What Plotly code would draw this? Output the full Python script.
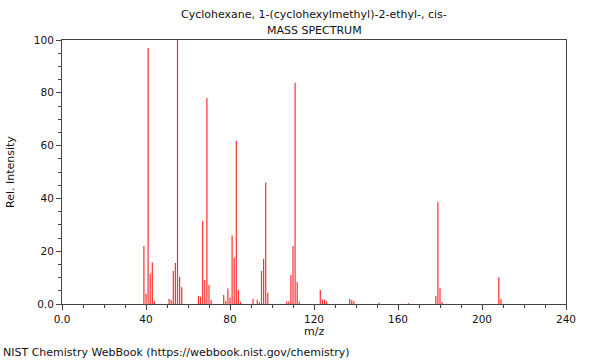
import plotly.graph_objects as go

mz = [39, 40, 41, 42, 43, 44, 51, 52, 53, 54, 55, 56, 57,
      65, 66, 67, 68, 69, 70, 71, 77, 78, 79, 80, 81, 82, 83, 84, 85,
      91, 93, 94, 95, 96, 97, 98,
      107, 108, 109, 110, 111, 112, 113,
      123, 124, 125, 126, 137, 138, 139, 151, 165,
      178, 179, 180, 181, 208, 209]
intensity = [22, 4, 97, 11.6, 15.8, 1, 2, 1.5, 12.5, 15.5, 100, 10.2, 6.3,
             3, 2.7, 31.4, 9.1, 78, 7.2, 1.5, 3.4, 1.1, 5.9, 2.5, 25.9, 17.5, 61.7, 5.3, 0.8,
             1.9, 1.5, 0.7, 12.5, 17, 46, 4.3,
             0.9, 0.9, 11, 22, 83.8, 8.3, 0.9,
             5.3, 1.7, 1.7, 0.9, 1.9, 1.5, 1, 0.5, 0.3,
             3, 38.5, 6, 0.8, 10.1, 1.9]

x_tick_vals = [0, 40, 80, 120, 160, 200, 240]
x_tick_text = ["0.0", "40", "80", "120", "160", "200", "240"]
y_tick_vals = [0, 20, 40, 60, 80, 100]
y_tick_text = ["0.0", "20", "40", "60", "80", "100"]

title_lines = ["Cyclohexane, 1-(cyclohexylmethyl)-2-ethyl-, cis-", "MASS SPECTRUM"]
footer = "NIST Chemistry WebBook (https://webbook.nist.gov/chemistry)"
x_title = "m/z"
y_title = "Rel. Intensity"

line_color = "#ff3030"

# stick spectrum built from the data arrays
stem_x, stem_y = [], []
for m, v in zip(mz, intensity):
    stem_x += [m, m, None]
    stem_y += [0, v, None]

fig = go.Figure()
fig.add_trace(go.Scatter(x=stem_x, y=stem_y, mode="lines",
                         line=dict(color=line_color, width=1.2),
                         connectgaps=False, hoverinfo="skip"))

font = "DejaVu Sans, sans-serif"
fig.update_layout(
    width=600, height=360,
    margin=dict(l=62, r=34, t=40, b=56, autoexpand=False),
    paper_bgcolor="white", plot_bgcolor="white",
    showlegend=False,
    font=dict(family=font, size=11, color="#111"),
)
fig.update_xaxes(
    range=[0, 240], tickvals=x_tick_vals, ticktext=x_tick_text,
    ticks="outside", ticklen=5, tickwidth=1, tickcolor="#444",
    minor=dict(dtick=10, ticks="outside", ticklen=3, tickcolor="#444"),
    showline=True, linecolor="#444", linewidth=1, mirror=True,
    showgrid=False, zeroline=False, automargin=False,
    tickfont=dict(size=10.5),
)
fig.update_yaxes(
    range=[0, 100], tickvals=y_tick_vals, ticktext=y_tick_text,
    ticks="outside", ticklen=5, tickwidth=1, tickcolor="#444",
    minor=dict(dtick=5, ticks="outside", ticklen=3, tickcolor="#444"),
    showline=True, linecolor="#444", linewidth=1, mirror=True,
    showgrid=False, zeroline=False, automargin=False,
    tickfont=dict(size=10.5),
)
fig.add_annotation(text=title_lines[0], xref="paper", yref="paper", x=0.5, y=1,
                   yshift=26, showarrow=False, font=dict(size=11), yanchor="middle")
fig.add_annotation(text=title_lines[1], xref="paper", yref="paper", x=0.5, y=1,
                   yshift=10, showarrow=False, font=dict(size=11), yanchor="middle")
fig.add_annotation(text=x_title, xref="paper", yref="paper", x=0.5, y=0,
                   yshift=-27, showarrow=False, font=dict(size=11), yanchor="middle")
fig.add_annotation(text=y_title, xref="paper", yref="paper", x=0, y=0.5,
                   xshift=-52, textangle=-90, showarrow=False, font=dict(size=11),
                   xanchor="center", yanchor="middle")
fig.add_annotation(text=footer, xref="paper", yref="paper", x=-61/504, y=0,
                   yshift=-48, xanchor="left", showarrow=False,
                   font=dict(size=11), yanchor="middle")
fig.write_html("out.html", config={"displayModeBar": False},
               post_script="document.body.style.margin='0';")
